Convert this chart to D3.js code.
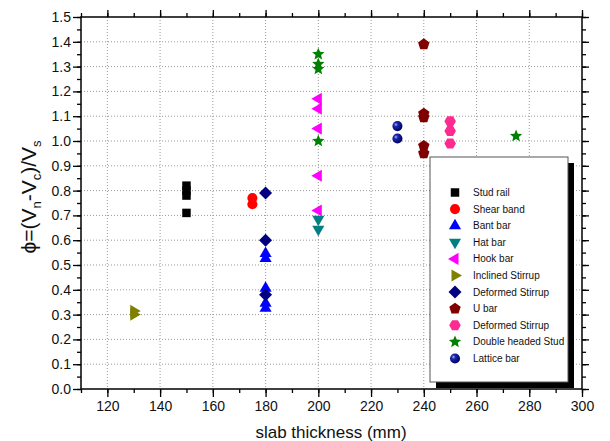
<!DOCTYPE html>
<head>
  <meta charset="utf-8">
  <script src="https://d3js.org/d3.v7.min.js"></script>
  <style>
    body { margin: 0; background: #fff; }
    text { font-family: "Liberation Sans", Arial, Helvetica, sans-serif; fill: #111; }
    .grid line { stroke: #9a9a9a; stroke-width: 1; stroke-dasharray: 1,2; }
    .legend text { font-size: 10px; }
  </style>
</head>
<body>
<script>
  // ---- data (slab thickness in mm, phi value) ----
  var studRail      = [[150, 0.71], [150, 0.78], [150, 0.80], [150, 0.82]];
  var shearBand     = [[175, 0.745], [175, 0.77]];
  var bantBar       = [[180, 0.55], [180, 0.53], [180, 0.41], [180, 0.35], [180, 0.33]];
  var hatBar        = [[200, 0.68], [200, 0.64]];
  var hookBar       = [[200, 1.17], [200, 1.13], [200, 1.05], [200, 0.86], [200, 0.72]];
  var inclined      = [[130, 0.315], [130, 0.30]];
  var deformed1     = [[180, 0.79], [180, 0.60], [180, 0.38]];
  var uBar          = [[240, 1.39], [240, 1.11], [240, 1.095], [240, 0.98], [240, 0.95]];
  var deformed2     = [[250, 1.08], [250, 1.04], [250, 0.99]];
  var doubleHeaded  = [[200, 1.35], [200, 1.31], [200, 1.29], [200, 1.00], [275, 1.02]];
  var lattice       = [[230, 1.06], [230, 1.01]];

  var seriesNames = ["Stud rail", "Shear band", "Bant bar", "Hat bar", "Hook bar", "Inclined Stirrup",
    "Deformed Stirrup", "U bar", "Deformed Stirrup", "Double headed Stud", "Lattice bar"];
  var xTicks = [120, 140, 160, 180, 200, 220, 240, 260, 280, 300];
  var yTicks = [0, 0.1, 0.2, 0.3, 0.4, 0.5, 0.6, 0.7, 0.8, 0.9, 1.0, 1.1, 1.2, 1.3, 1.4, 1.5];

  var W = 610, H = 441;
  var margin = { top: 17, right: 28, bottom: 52, left: 81 };
  var width = W - margin.left - margin.right,
      height = H - margin.top - margin.bottom;

  // polygon helper: n sides, radius r, start angle (deg, 0 = pointing up)
  function poly(n, r, startDeg) {
    var p = d3.path();
    for (var i = 0; i < n; i++) {
      var a = (startDeg + i * 360 / n) * Math.PI / 180;
      var px = r * Math.sin(a), py = -r * Math.cos(a);
      if (i === 0) p.moveTo(px, py); else p.lineTo(px, py);
    }
    p.closePath();
    return p.toString();
  }
  function star(r) {
    var p = d3.path(), ri = r * 0.45;
    for (var i = 0; i < 10; i++) {
      var rr = i % 2 ? ri : r, a = i * 36 * Math.PI / 180;
      var px = rr * Math.sin(a), py = -rr * Math.cos(a);
      if (i === 0) p.moveTo(px, py); else p.lineTo(px, py);
    }
    p.closePath();
    return p.toString();
  }
  var circle = d3.symbol().type(d3.symbolCircle).size(80)();

  var styles = [
    { data: studRail,     path: poly(4, 6, 45),  fill: "#000000" },
    { data: shearBand,    path: circle,          fill: "#ff0000" },
    { data: bantBar,      path: poly(3, 7, 0),   fill: "#0000ff", dy: 1 },
    { data: hatBar,       path: poly(3, 7, 180), fill: "#008080", dy: -1 },
    { data: hookBar,      path: poly(3, 7, 270), fill: "#ff00ff" },
    { data: inclined,     path: poly(3, 7, 90),  fill: "#808000" },
    { data: deformed1,    path: poly(4, 6.5, 0), fill: "#000080" },
    { data: uBar,         path: poly(5, 6, 0),   fill: "#800000" },
    { data: deformed2,    path: poly(6, 5.8, 30), fill: "#ff2a8f" },
    { data: doubleHeaded, path: star(6.5),       fill: "#008000" },
    { data: lattice,      path: circle,          fill: "url(#sphere)" }
  ];

  var svg = d3.select("body").append("svg")
    .attr("width", W).attr("height", H);

  var defs = svg.append("defs");
  var grad = defs.append("radialGradient").attr("id", "sphere")
    .attr("cx", "35%").attr("cy", "35%").attr("r", "65%");
  grad.append("stop").attr("offset", "0%").attr("stop-color", "#a8b4ff");
  grad.append("stop").attr("offset", "30%").attr("stop-color", "#1a28b0");
  grad.append("stop").attr("offset", "100%").attr("stop-color", "#000060");

  var g = svg.append("g")
    .attr("transform", "translate(" + margin.left + "," + margin.top + ")");

  var x = d3.scaleLinear().domain([110, 300]).range([0, width]);
  var y = d3.scaleLinear().domain([0, 1.5]).range([height, 0]);

  // grid
  var grid = g.append("g").attr("class", "grid");
  grid.selectAll(".gx").data(xTicks.filter(function (d) { return d < 300; }))
    .enter().append("line")
    .attr("x1", function (d) { return x(d); }).attr("x2", function (d) { return x(d); })
    .attr("y1", 0).attr("y2", height);
  grid.selectAll(".gy").data(yTicks.filter(function (d) { return d > 0 && d < 1.5; }))
    .enter().append("line")
    .attr("y1", function (d) { return y(d); }).attr("y2", function (d) { return y(d); })
    .attr("x1", 0).attr("x2", width);

  // axes
  var xMinor = d3.range(110, 301, 10), yMinor = d3.range(0, 1.501, 0.05);
  function styleAxis(sel) {
    sel.select(".domain").remove();
    sel.selectAll("line").attr("stroke", "#000").attr("stroke-width", 1.3);
    sel.selectAll("text").style("font-size", "14px").attr("fill", "#111");
  }
  g.append("g").attr("transform", "translate(0," + height + ")")
    .call(d3.axisBottom(x).tickValues(xMinor).tickSize(4).tickFormat(""))
    .call(styleAxis);
  g.append("g").attr("transform", "translate(0," + height + ")")
    .call(d3.axisBottom(x).tickValues(xTicks).tickSize(8).tickPadding(4).tickFormat(d3.format("d")))
    .call(styleAxis);
  g.append("g")
    .call(d3.axisLeft(y).tickValues(yMinor).tickSize(4).tickFormat(""))
    .call(styleAxis);
  g.append("g")
    .call(d3.axisLeft(y).tickValues(yTicks).tickSize(8).tickPadding(2).tickFormat(d3.format(".1f")))
    .call(styleAxis);
  g.append("g")
    .call(d3.axisBottom(x).tickValues(xMinor).tickSize(-4).tickFormat(""))
    .call(styleAxis);
  g.append("g")
    .call(d3.axisBottom(x).tickValues(xTicks).tickSize(-7).tickFormat(""))
    .call(styleAxis);
  g.append("g").attr("transform", "translate(" + width + ",0)")
    .call(d3.axisLeft(y).tickValues(yMinor).tickSize(-4).tickFormat(""))
    .call(styleAxis);
  g.append("g").attr("transform", "translate(" + width + ",0)")
    .call(d3.axisLeft(y).tickValues(yTicks).tickSize(-7).tickFormat(""))
    .call(styleAxis);

  g.append("rect").attr("width", width).attr("height", height)
    .attr("fill", "none").attr("stroke", "#000").attr("stroke-width", 1.5);

  // points
  styles.forEach(function (s) {
    g.append("g").selectAll("path").data(s.data).enter().append("path")
      .attr("d", s.path)
      .attr("transform", function (d) {
        return "translate(" + x(d[0]) + "," + (y(d[1]) + (s.dy || 0)) + ")";
      })
      .attr("fill", s.fill);
  });

  // legend
  var lx = 430 - margin.left, ly = 157 - margin.top, lw = 138, lh = 225;
  var legend = g.append("g").attr("class", "legend");
  legend.append("rect").attr("x", lx + 6).attr("y", ly + 6)
    .attr("width", lw).attr("height", lh).attr("fill", "#000");
  legend.append("rect").attr("x", lx).attr("y", ly)
    .attr("width", lw).attr("height", lh)
    .attr("fill", "#fff").attr("stroke", "#555").attr("stroke-width", 1);
  var rows = legend.selectAll(".row").data(styles).enter().append("g")
    .attr("transform", function (d, i) { return "translate(" + (lx + 25) + "," + (ly + 35.5 + i * 16.6) + ")"; });
  rows.append("path").attr("d", function (d) { return d.path; })
    .attr("fill", function (d) { return d.fill; });
  rows.append("text").attr("x", 18).attr("dy", "0.35em")
    .text(function (d, i) { return seriesNames[i]; });

  // axis titles
  svg.append("text")
    .attr("x", 331).attr("y", 438)
    .attr("text-anchor", "middle").style("font-size", "17px")
    .text("slab thickness (mm)");

  var yt = svg.append("text")
    .attr("transform", "translate(36," + 197 + ") rotate(-90)")
    .attr("text-anchor", "middle").style("font-size", "21px");
  yt.append("tspan").text("\u03d5=(V");
  yt.append("tspan").attr("dy", 5).style("font-size", "13px").text("n");
  yt.append("tspan").attr("dy", -5).text("-V");
  yt.append("tspan").attr("dy", 5).style("font-size", "13px").text("c");
  yt.append("tspan").attr("dy", -5).text(")/V");
  yt.append("tspan").attr("dy", 5).style("font-size", "13px").text("s");
</script>
</body>
